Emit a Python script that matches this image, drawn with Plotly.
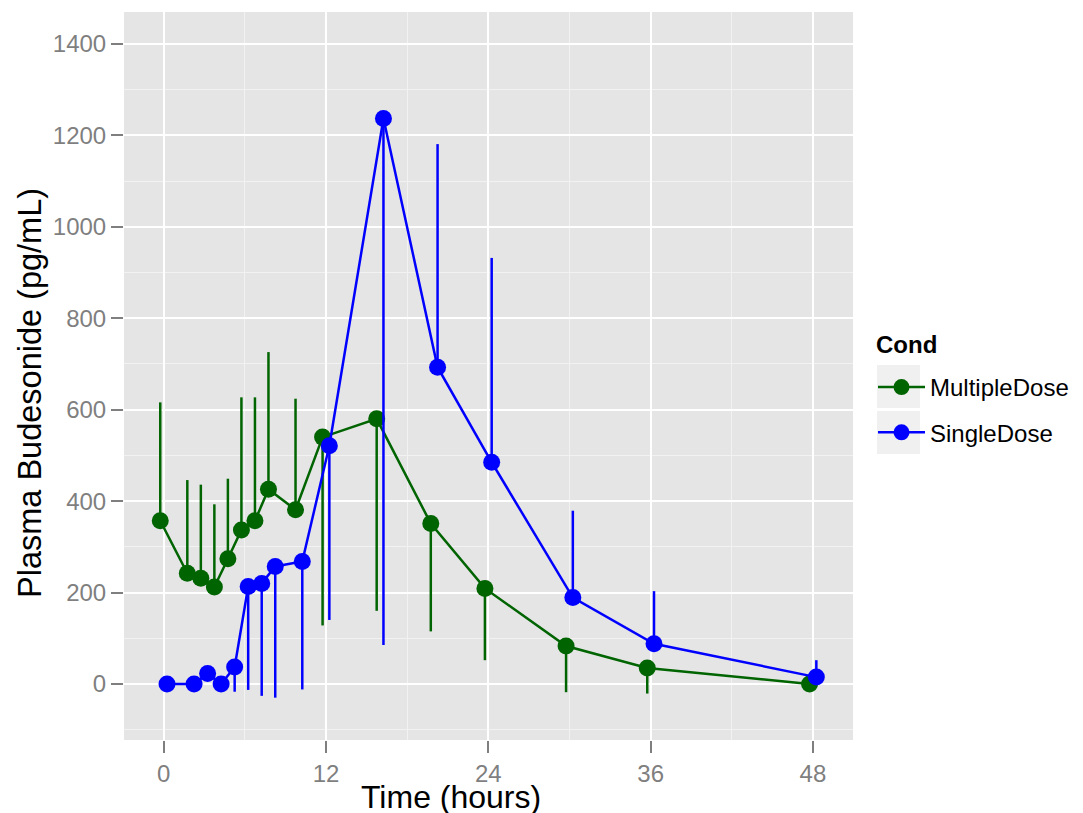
import plotly.graph_objects as go

# ---- data ----
times = [0, 2, 3, 4, 5, 6, 7, 8, 10, 12, 16, 20, 24, 30, 36, 48]

multiple_mean = [357, 242, 231, 212, 274, 337, 357, 426, 381, 540, 580, 351, 209, 83, 35, 0]
multiple_bar_end = [616, 446, 436, 393, 449, 627, 627, 726, 624, 128, 160, 115, 52, -18, -21, -3]

single_mean = [0, 0, 23, 0, 37, 213, 220, 257, 268, 521, 1237, 693, 485, 189, 88, 15]
single_bar_end = [0, 0, 23, 0, -17, -13, -26, -30, -12, 140, 85, 1181, 932, 379, 203, 52]

x_ticks = [0, 12, 24, 36, 48]
y_ticks = [0, 200, 400, 600, 800, 1000, 1200, 1400]

DODGE = 0.25
FONT = "Liberation Sans, Arial, Helvetica, sans-serif"
GREEN = "#006400"
BLUE = "#0000FF"

W, H = 1083, 813
ML, MR, MT, MB = 124, 230, 12, 73
PW, PH = W - ML - MR, H - MT - MB


def px_x(px):
    return (px - ML) / PW


def px_y(py):
    return (H - MB - py) / PH


def err_parts(mean, end):
    plus = [max(e - m, 0) for m, e in zip(mean, end)]
    minus = [max(m - e, 0) for m, e in zip(mean, end)]
    return plus, minus


fig = go.Figure()

for name, mean, end, color, off in [
    ("MultipleDose", multiple_mean, multiple_bar_end, GREEN, -DODGE),
    ("SingleDose", single_mean, single_bar_end, BLUE, DODGE),
]:
    plus, minus = err_parts(mean, end)
    fig.add_trace(go.Scatter(
        x=[t + off for t in times],
        y=mean,
        mode="lines+markers",
        name=name,
        legendgroup=name,
        line=dict(color=color, width=2.5),
        marker=dict(color=color, size=17),
        error_y=dict(type="data", symmetric=False, array=plus, arrayminus=minus,
                     color=color, thickness=2.5, width=0),
    ))

axis_common = dict(
    showgrid=True,
    gridcolor="#FFFFFF",
    gridwidth=2.2,
    zeroline=False,
    showline=False,
    ticks="outside",
    ticklen=12,
    tickwidth=2,
    tickcolor="#7F7F7F",
    tickfont=dict(family=FONT, size=24, color="#7F7F7F"),
)

fig.update_xaxes(
    **axis_common,
    range=[-2.93, 50.96],
    tickvals=x_ticks,
    ticktext=[str(v) for v in x_ticks],
    minor=dict(dtick=6, tick0=0, showgrid=True, gridcolor="#F2F2F2", gridwidth=1),
)
fig.update_yaxes(
    **axis_common,
    range=[-122.6, 1470],
    tickvals=y_ticks,
    ticktext=[str(v) for v in y_ticks],
    minor=dict(dtick=100, tick0=0, showgrid=True, gridcolor="#F2F2F2", gridwidth=1),
)

annotations = [
    dict(text="Time (hours)", xref="paper", yref="paper",
         x=px_x(451), y=px_y(797), xanchor="center", yanchor="middle",
         showarrow=False, font=dict(family=FONT, size=32, color="#000000")),
    dict(text="Plasma Budesonide (pg/mL)", xref="paper", yref="paper",
         x=px_x(30), y=px_y(393), xanchor="center", yanchor="middle", textangle=-90,
         showarrow=False, font=dict(family=FONT, size=32.5, color="#000000")),
    dict(text="<b>Cond</b>", xref="paper", yref="paper",
         x=px_x(874), y=px_y(344), xanchor="left", yanchor="middle",
         showarrow=False, font=dict(family=FONT, size=24, color="#000000")),
]

# legend key backgrounds (ggplot-style key boxes)
shapes = []
for top in (365, 411):
    shapes.append(dict(type="rect", xref="paper", yref="paper",
                       x0=px_x(877), x1=px_x(920), y0=px_y(top + 43), y1=px_y(top),
                       fillcolor="#F0F0F0", line=dict(width=0), layer="below"))

fig.update_layout(
    width=W,
    height=H,
    margin=dict(l=ML, r=MR, t=MT, b=MB, autoexpand=False),
    plot_bgcolor="#E5E5E5",
    paper_bgcolor="#FFFFFF",
    font=dict(family=FONT, color="#000000"),
    annotations=annotations,
    shapes=shapes,
    legend=dict(
        font=dict(family=FONT, size=24, color="#000000"),
        x=px_x(873), xanchor="left",
        y=px_y(365), yanchor="top",
        bgcolor="rgba(0,0,0,0)",
        tracegroupgap=11,
        itemwidth=47,
    ),
)

fig.write_html("out.html")
